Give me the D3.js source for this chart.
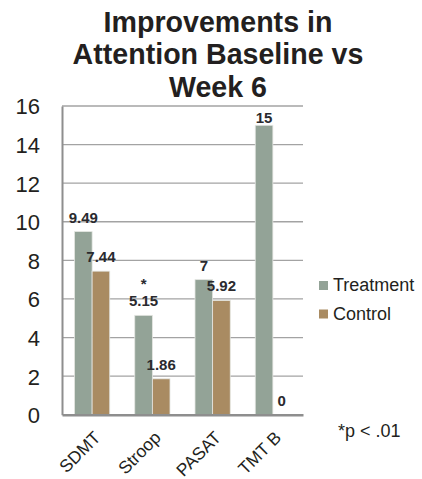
<!DOCTYPE html>
<html>
<head>
<meta charset="utf-8">
<script src="https://cdn.jsdelivr.net/npm/d3@7"></script>
<style>
  html, body { margin: 0; padding: 0; background: #fff; }
  svg { display: block; font-family: "Liberation Sans", Arial, Helvetica, sans-serif; }
</style>
</head>
<body>
<svg id="chart" width="422" height="479"></svg>
<script>
// Attention test improvements, baseline vs week 6
const categories = ["SDMT", "Stroop", "PASAT", "TMT B"];
const seriesNames = ["Treatment", "Control"];
const treatment = [9.49, 5.15, 7, 15];
const control = [7.44, 1.86, 5.92, 0];
const significant = [false, true, false, false];
const yTicks = [0, 2, 4, 6, 8, 10, 12, 14, 16];
const titleLines = ["Improvements in", "Attention Baseline vs", "Week 6"];
const footnote = "*p < .01";

const colors = { Treatment: "#93a397", Control: "#a98b62" };
const textColor = "#231f20";

const svg = d3.select("#chart");
const plot = { left: 62, right: 303, top: 106, bottom: 414.7 };

const x = d3.scaleBand().domain(categories).range([plot.left, plot.right]).paddingInner(0).paddingOuter(0);
const inner = d3.scaleBand().domain(seriesNames).range([0, x.bandwidth()]).paddingInner(0).paddingOuter(0.71);
const y = d3.scaleLinear().domain([0, 16]).range([plot.bottom, plot.top]);

// title
svg.append("g")
  .selectAll("text")
  .data(titleLines)
  .join("text")
  .attr("x", 218)
  .attr("y", (d, i) => 31.7 + i * 32.5)
  .attr("text-anchor", "middle")
  .attr("font-size", 28.6)
  .attr("font-weight", "bold")
  .attr("fill", textColor)
  .text(d => d);

// gridlines
svg.append("g")
  .selectAll("line")
  .data(yTicks.filter(t => t > 0))
  .join("line")
  .attr("x1", plot.left)
  .attr("x2", plot.right)
  .attr("y1", d => y(d))
  .attr("y2", d => y(d))
  .attr("stroke", "#a3a3a3")
  .attr("stroke-width", 1.3);

// y axis
const yAxis = svg.append("g")
  .attr("transform", `translate(${plot.left},0)`)
  .call(d3.axisLeft(y).tickValues(yTicks).tickSize(0).tickPadding(22));
yAxis.select(".domain").attr("stroke", "#8e8e8e").attr("stroke-width", 2);
yAxis.selectAll("text")
  .attr("font-size", 22)
  .attr("font-family", "'Liberation Sans', Arial, sans-serif")
  .attr("fill", textColor)
  .attr("dy", "0.36em");

// bars
const rows = categories.map((c, i) => ({
  cat: c,
  sig: significant[i],
  values: [
    { series: "Treatment", value: treatment[i] },
    { series: "Control", value: control[i] }
  ]
}));

const groups = svg.append("g")
  .selectAll("g")
  .data(rows)
  .join("g")
  .attr("transform", d => `translate(${x(d.cat)},0)`);

groups.selectAll("rect")
  .data(d => d.values)
  .join("rect")
  .attr("x", d => inner(d.series))
  .attr("width", inner.bandwidth())
  .attr("y", d => y(d.value))
  .attr("height", d => y(0) - y(d.value))
  .attr("fill", d => colors[d.series])
  .attr("stroke", "#e4e6e2")
  .attr("stroke-width", d => d.value > 0 ? 0.8 : 0);

// value labels
const labelBaseline = v => Math.max(y(v) - 9, plot.top + 17);
groups.selectAll("text.val")
  .data(d => d.values)
  .join("text")
  .attr("class", "val")
  .attr("x", d => inner(d.series) + inner.bandwidth() / 2)
  .attr("y", d => labelBaseline(d.value))
  .attr("text-anchor", "middle")
  .attr("font-size", 15)
  .attr("font-weight", "bold")
  .attr("fill", "#2a2a2e")
  .text(d => d3.format("~r")(d.value));

// significance markers
groups.filter(d => d.sig)
  .append("text")
  .attr("x", inner("Treatment") + inner.bandwidth() / 2)
  .attr("y", d => labelBaseline(d.values[0].value) - 17)
  .attr("text-anchor", "middle")
  .attr("font-size", 15)
  .attr("font-weight", "bold")
  .attr("fill", "#2a2a2e")
  .text("*");

// x axis
const xAxis = svg.append("g")
  .attr("transform", `translate(0,${plot.bottom})`)
  .call(d3.axisBottom(x).tickSize(0).tickPadding(0));
xAxis.select(".domain").attr("stroke", "#8e8e8e").attr("stroke-width", 2.5);
xAxis.selectAll("text")
  .attr("font-size", 17.5)
  .attr("font-family", "'Liberation Sans', Arial, sans-serif")
  .attr("fill", textColor)
  .attr("text-anchor", "end")
  .attr("dy", 0)
  .attr("y", 0)
  .attr("transform", "translate(9.5,24) rotate(-45)");

// legend
const legend = svg.append("g")
  .selectAll("g")
  .data(seriesNames)
  .join("g")
  .attr("transform", (d, i) => `translate(319,${281 + i * 28.5})`);
legend.append("rect")
  .attr("width", 9)
  .attr("height", 9)
  .attr("fill", d => colors[d]);
legend.append("text")
  .attr("x", 14)
  .attr("y", 10)
  .attr("font-size", 18)
  .attr("fill", textColor)
  .text(d => d);

// footnote
svg.append("text")
  .attr("x", 338)
  .attr("y", 436.7)
  .attr("font-size", 18)
  .attr("fill", textColor)
  .text(footnote);
</script>
</body>
</html>
